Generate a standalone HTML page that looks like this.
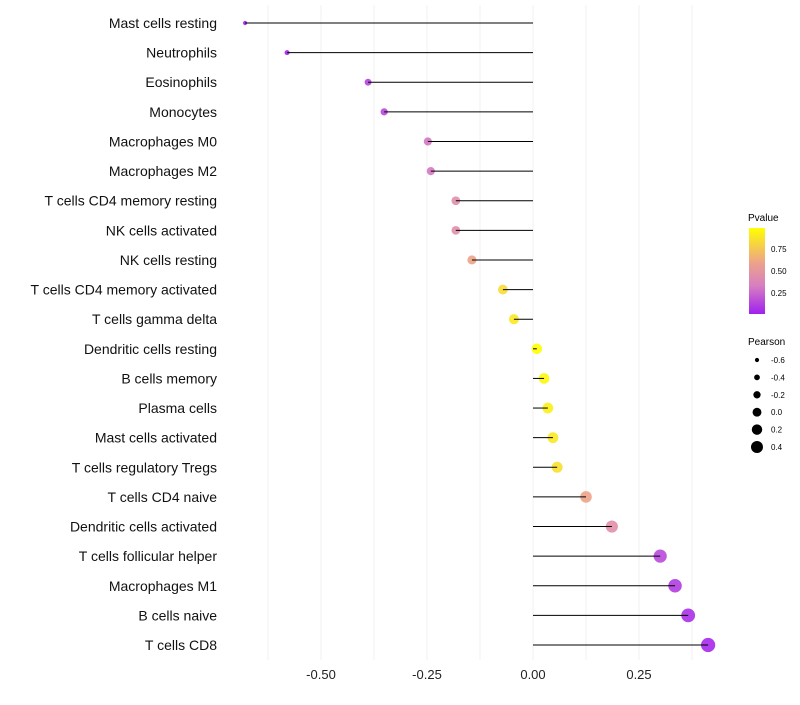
<!DOCTYPE html>
<html><head><meta charset="utf-8"><style>
body{margin:0;background:#fff;font-family:"Liberation Sans",sans-serif}
</style></head><body>
<svg id="chart" width="800" height="700">
<defs><linearGradient id="pg" x1="0" y1="1" x2="0" y2="0">
<stop offset="0" stop-color="#a020f0"/><stop offset="0.33" stop-color="#d77fc0"/><stop offset="0.6" stop-color="#eda38a"/><stop offset="1" stop-color="#ffff00"/></linearGradient></defs>
<g id="grid"></g><g id="dots"></g><g id="marks"></g><g id="labels"></g>
<g>
<text x="748" y="221" font-size="10">Pvalue</text>
<rect x="749" y="228" width="16" height="86" fill="url(#pg)"/>
<text x="771" y="252" font-size="8">0.75</text>
<text x="771" y="274" font-size="8">0.50</text>
<text x="771" y="296" font-size="8">0.25</text>
</g>
<g id="sizeLegend">
<text x="748" y="345" font-size="10">Pearson</text>
</g>
</svg>
<script>
const categories=["Mast cells resting","Neutrophils","Eosinophils","Monocytes","Macrophages M0","Macrophages M2","T cells CD4 memory resting","NK cells activated","NK cells resting","T cells CD4 memory activated","T cells gamma delta","Dendritic cells resting","B cells memory","Plasma cells","Mast cells activated","T cells regulatory  Tregs ","T cells CD4 naive","Dendritic cells activated","T cells follicular helper","Macrophages M1","B cells naive","T cells CD8"];
const pearson=[-0.679,-0.580,-0.389,-0.351,-0.248,-0.241,-0.182,-0.182,-0.144,-0.071,-0.045,0.009,0.026,0.035,0.047,0.057,0.125,0.186,0.300,0.335,0.366,0.413];
const pvalue=[0.0,0.02,0.12,0.14,0.3,0.31,0.45,0.45,0.6,0.85,0.9,1.0,0.96,0.94,0.9,0.86,0.6,0.45,0.15,0.1,0.06,0.03];
const xTicks=[-0.5,-0.25,0,0.25];
const xTickLabels=["-0.50","-0.25","0.00","0.25"];
const sizeLegendValues=[-0.6,-0.4,-0.2,0.0,0.2,0.4];
const NS="http://www.w3.org/2000/svg";
const X=v=>533+v*424;
const Y=i=>23+i*(622/21);
const R=v=>2+(v+0.7)*4.6;
const stops=[[0,[160,32,240]],[0.33,[215,127,192]],[0.6,[237,163,138]],[1,[255,255,0]]];
function col(p){for(let k=0;k<stops.length-1;k++){const [p0,c0]=stops[k],[p1,c1]=stops[k+1];if(p<=p1){const t=(p-p0)/(p1-p0);return`rgb(${c0.map((c,j)=>Math.round(c+(c1[j]-c)*t)).join(",")})`;}}return"rgb(255,255,0)";}
function mk(tag,at,par){const e=document.createElementNS(NS,tag);for(const k in at)e.setAttribute(k,at[k]);document.getElementById(par).appendChild(e);return e;}
for(let v=-0.625;v<=0.4;v+=0.125){const g=mk("line",{x1:X(v),x2:X(v),y1:5,y2:660,stroke:"#f2f2f2","stroke-width":1},"grid");

}
xTicks.forEach((t,i)=>{const tx=mk("text",{x:X(t),y:679,"font-size":13,"text-anchor":"middle",fill:"#222"},"labels");tx.textContent=xTickLabels[i];

});
categories.forEach((c,i)=>{
const t=mk("text",{x:217,y:Y(i)+5,"font-size":14,"text-anchor":"end",fill:"#111"},"labels");t.textContent=c;


const d=mk("circle",{cx:X(pearson[i]),cy:Y(i),r:R(pearson[i]),fill:col(pvalue[i]),"fill-opacity":0.9},"dots");


const l=mk("line",{x1:X(0),x2:X(pearson[i]),y1:Y(i),y2:Y(i),stroke:"#000","stroke-width":1},"marks");


});
sizeLegendValues.forEach((v,i)=>{const y=360+i*17.4;
const c=mk("circle",{cx:757,cy:y,r:R(v)*0.85,fill:"#000"},"sizeLegend");


const t=mk("text",{x:771,y:y+3,"font-size":8},"sizeLegend");t.textContent=v.toFixed(1);

});
</script>
</body></html>
